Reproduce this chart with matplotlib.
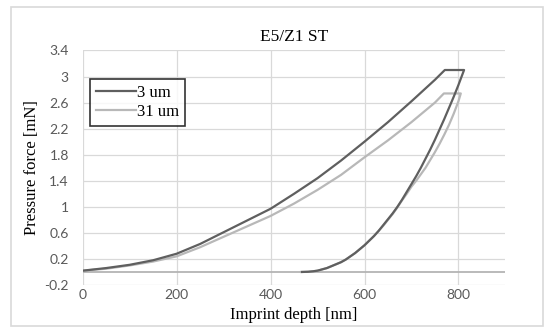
import matplotlib
matplotlib.use("Agg")
import matplotlib.pyplot as plt
from matplotlib.patches import Rectangle

# 3 um tip: loading, hold at max force, unloading
depth_3 = [0, 50, 100, 150, 200, 250, 300, 350, 400, 450, 500, 550, 600, 650, 700, 750, 771,
           812, 800, 790, 780, 770, 760, 750, 740, 730, 720, 710, 700, 690, 680, 670, 660, 650,
           640, 630, 620, 610, 600, 590, 580, 570, 560, 550, 540, 530, 520, 510, 500, 490, 480, 467]
force_3 = [0.02, 0.06, 0.11, 0.18, 0.28, 0.43, 0.61, 0.79, 0.97, 1.20, 1.44, 1.71, 2.00, 2.30, 2.62, 2.95, 3.10,
           3.10, 2.87, 2.69, 2.52, 2.35, 2.19, 2.03, 1.88, 1.74, 1.60, 1.47, 1.35, 1.23, 1.11, 1.00, 0.90, 0.81,
           0.72, 0.63, 0.55, 0.48, 0.41, 0.35, 0.29, 0.24, 0.19, 0.15, 0.12, 0.09, 0.06, 0.04, 0.02, 0.01, 0.003, 0.0]

# 31 um tip
depth_31 = [0, 50, 100, 150, 200, 250, 300, 350, 400, 450, 500, 550, 600, 650, 700, 750, 769,
            805, 800, 790, 780, 770, 760, 750, 740, 730, 720, 710, 700, 690, 680, 670, 660, 650,
            640, 630, 620, 610, 600, 590, 580, 570, 560, 550, 540, 530, 520, 510, 500, 490, 480, 465]
force_31 = [0.02, 0.05, 0.10, 0.16, 0.24, 0.38, 0.54, 0.70, 0.86, 1.05, 1.26, 1.49, 1.76, 2.02, 2.30, 2.60, 2.74,
            2.74, 2.62, 2.43, 2.26, 2.11, 1.97, 1.84, 1.72, 1.60, 1.50, 1.40, 1.31, 1.20, 1.10, 0.99, 0.89, 0.80,
            0.71, 0.63, 0.55, 0.48, 0.41, 0.35, 0.29, 0.24, 0.19, 0.15, 0.12, 0.09, 0.06, 0.04, 0.02, 0.01, 0.003, 0.0]

x_ticks = [0, 200, 400, 600, 800]
y_ticks = [-0.2, 0.2, 0.6, 1, 1.4, 1.8, 2.2, 2.6, 3, 3.4]
y_labels = ["-0.2", "0.2", "0.6", "1", "1.4", "1.8", "2.2", "2.6", "3", "3.4"]

serif = "Liberation Serif"
sans = "Lato"

fig = plt.figure(figsize=(5.5, 3.36), dpi=100)
fig.patch.set_facecolor("white")
# outer chart border
fig.patches.append(Rectangle((0.02, 0.03), 0.967, 0.948, transform=fig.transFigure,
                             fill=False, edgecolor="#d9d9d9", linewidth=1.2))

ax = fig.add_axes([0.1504, 0.1518, 0.7685, 0.698])
ax.set_xlim(0, 900)
ax.set_ylim(-0.2, 3.4)
ax.set_xticks(x_ticks)
ax.set_yticks(y_ticks)
ax.set_yticklabels(y_labels)
ax.grid(True, color="#d9d9d9", linewidth=0.9)
ax.set_axisbelow(True)
for s in ax.spines.values():
    s.set_visible(False)
ax.tick_params(length=0, labelsize=10, labelcolor="#595959")
ax.tick_params(axis="y", pad=10)
ax.tick_params(axis="x", pad=3)
for lbl in ax.get_xticklabels() + ax.get_yticklabels():
    lbl.set_family(sans)

# horizontal axis line at zero
ax.axhline(0, color="#b4b4b4", linewidth=1.3, zorder=1.5)

ax.plot(depth_3, force_3, color="#5f5f5f", linewidth=1.6, label="3 um", zorder=3)
ax.plot(depth_31, force_31, color="#b8b8b8", linewidth=1.6, label="31 um", zorder=2.5)

ax.set_title("E5/Z1 ST", family=serif, fontsize=12.5, pad=7)
ax.set_xlabel("Imprint depth [nm]", family=serif, fontsize=12, labelpad=4)
ax.set_ylabel("Pressure force [mN]", family=serif, fontsize=12, labelpad=3)

leg = ax.legend(loc="upper left", bbox_to_anchor=(0.017, 0.878), borderaxespad=0,
                prop={"family": serif, "size": 12}, frameon=True, fancybox=False,
                edgecolor="black", handlelength=2.4, handletextpad=0.1,
                labelspacing=0.2, borderpad=0.35)
leg.get_frame().set_linewidth(1.2)

fig.savefig("out.png", dpi=100)
